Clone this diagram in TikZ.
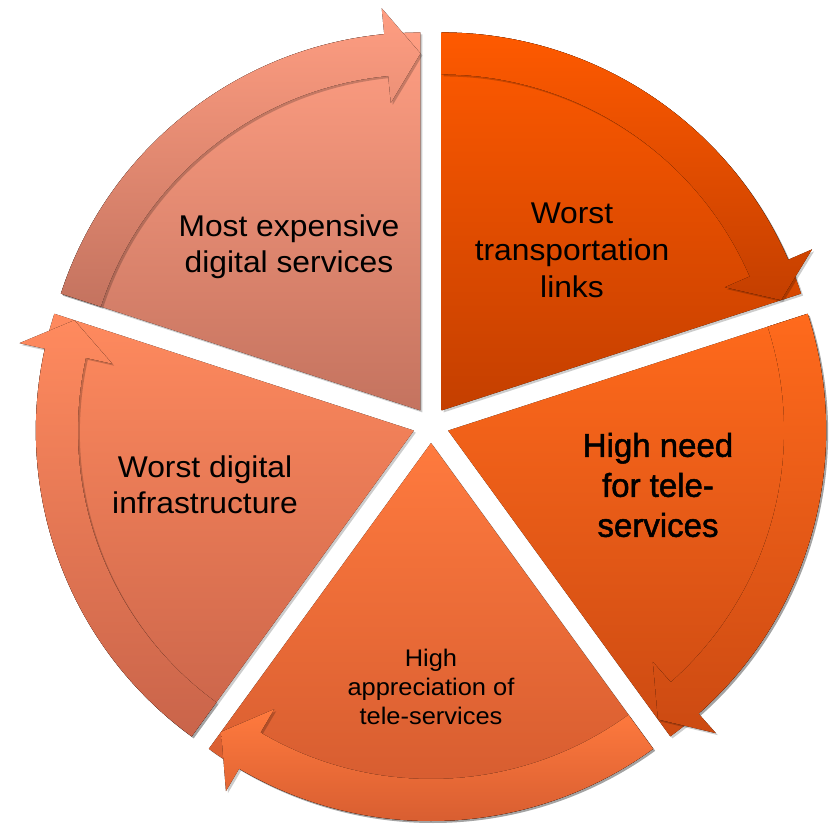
\documentclass[tikz,border=0pt]{standalone}
\usepackage{fontspec}
\setmainfont{Liberation Sans}[FakeStretch=1.06]
\newfontfamily\needfont{Liberation Sans}[FakeBold=1.5]
\usetikzlibrary{shadows}

\definecolor{tltop}{HTML}{FF9E82}
\definecolor{tlbot}{HTML}{C4735F}
\definecolor{trtop}{HTML}{FF5A00}
\definecolor{trbot}{HTML}{C43F00}
\definecolor{rttop}{HTML}{FF6A1C}
\definecolor{rtbot}{HTML}{CC4A12}
\definecolor{bttop}{HTML}{FF7A3E}
\definecolor{btbot}{HTML}{D0582E}
\definecolor{lftop}{HTML}{FF8A5E}
\definecolor{lfbot}{HTML}{C9644A}

\tikzset{
  shade/.style={drop shadow={shadow xshift=2pt,shadow yshift=-2pt,opacity=.2,fill=black}},
  label/.style={align=center,text=black,font=\fontsize{30}{36}\selectfont}
}

\begin{document}
\begin{tikzpicture}[x=1pt,y=1pt]
\useasboundingbox (-431,-398) rectangle (402,425);

% segments, each pushed out along its middle
\foreach \a/\col in {162/tl,90/tr,18/rt,-54/bt,-126/lf}{
  \begin{scope}[shift={(\a-36:18)}]
    \fill [shade,top color=\col top,bottom color=\col bot]
      (0,0) -- (\a:378) arc[start angle=\a,end angle=\a-72,radius=378] -- cycle;
    \fill [shade,top color=\col top,bottom color=\col bot]
      (\a:336) -- (\a:378) arc[start angle=\a,end angle=\a-66.5,radius=378]
      -- (\a-66.5:404) -- (\a-72:357) -- (\a-66.5:309) -- (\a-66.5:336)
      arc[start angle=\a-66.5,end angle=\a,radius=336] -- cycle;
  \end{scope}
}

\node [label] (costs) at (-142,178) {Most expensive\\digital services};
\node [label,font=\fontsize{30}{37}\selectfont] (transport) at (141,175) {Worst\\transportation\\links};
\node [label,font=\needfont\fontsize{33}{40}\selectfont] (need) at (227,-60) {High need\\for tele-\\services};
\node [label,font=\fontsize{24}{29}\selectfont] (appreciation) at (0,-262) {High\\appreciation of\\tele-services};
\node [label] (infra) at (-226,-60) {Worst digital\\infrastructure};
\end{tikzpicture}
\end{document}
